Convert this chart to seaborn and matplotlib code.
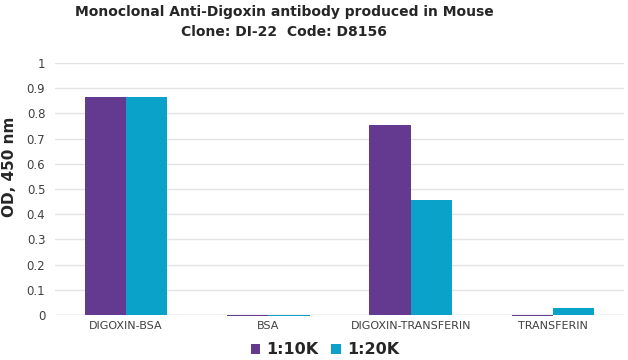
import matplotlib
matplotlib.use("Agg")
import matplotlib.pyplot as plt
import seaborn as sns
import pandas as pd

categories = ["DIGOXIN-BSA", "BSA", "DIGOXIN-TRANSFERIN", "TRANSFERIN"]
series_names = ["1:10K", "1:20K"]
od_10k = [0.865, -0.004, 0.752, -0.004]
od_20k = [0.866, -0.002, 0.456, 0.029]
colors = ["#633A8F", "#0BA2C9"]

sns.set_theme(style="white")
plt.rcParams["font.family"] = ["DejaVu Sans"]

rows = []
for name, vals in zip(series_names, [od_10k, od_20k]):
    for c, v in zip(categories, vals):
        rows.append({"cat": c, "od": v, "dil": name})
df = pd.DataFrame(rows)

fig = plt.figure(figsize=(6.28, 3.6), dpi=100)
ax = fig.add_axes([55/628, 45/360, 569/628, 252/360])

sns.barplot(data=df, x="cat", y="od", hue="dil", order=categories,
            hue_order=series_names, palette=colors, saturation=1,
            width=0.58, ax=ax, legend=False)
for p in ax.patches:
    p.set_clip_on(False)
    p.set_linewidth(0)

ax.set_ylim(0, 1)
ax.set_xlim(-0.5, 3.5)
ax.set_yticks([i/10 for i in range(11)])
ax.set_yticklabels(["0", "0.1", "0.2", "0.3", "0.4", "0.5", "0.6", "0.7", "0.8", "0.9", "1"])
ax.yaxis.grid(True, color="#E3E3E3", linewidth=1)
ax.set_axisbelow(True)
ax.axhline(0, color="#D6D6D6", linewidth=1, zorder=0.5)
for s in ax.spines.values():
    s.set_visible(False)
ax.tick_params(axis="y", labelsize=8.5, colors="#404040", length=0, pad=7)
ax.tick_params(axis="x", labelsize=8, colors="#404040", length=0, pad=4)
ax.set_xlabel("")
ax.set_ylabel("OD, 450 nm", fontsize=11, fontweight="bold", color="#262626")
ax.yaxis.set_label_coords(-38/569, 0.59)

fig.text(284/628, 1 - 12/360, "Monoclonal Anti-Digoxin antibody produced in Mouse",
         ha="center", va="center", fontsize=10, fontweight="bold", color="#262626")
fig.text(284/628, 1 - 32/360, "Clone: DI-22  Code: D8156",
         ha="center", va="center", fontsize=10, fontweight="bold", color="#262626")

from matplotlib.patches import Patch
handles = [Patch(facecolor=c, edgecolor="none") for c in colors]
leg = fig.legend(handles, series_names, loc="center", bbox_to_anchor=(325/628, 1 - 350/360),
                 ncol=2, frameon=False, handlelength=0.6, handleheight=0.6,
                 handletextpad=0.4, columnspacing=0.8,
                 prop={"size": 11.5, "weight": "bold"})
for t in leg.get_texts():
    t.set_color("#262626")

fig.savefig("out.png", dpi=100)
